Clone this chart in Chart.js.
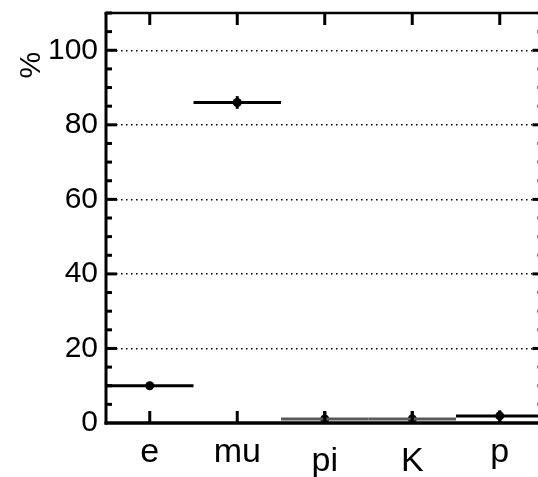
<!DOCTYPE html>
<html><head><meta charset="utf-8">
<script src="https://cdn.jsdelivr.net/npm/chart.js@4.4.0/dist/chart.umd.min.js"></script>
<style>html,body{margin:0;padding:0;background:#fff}#wrap{width:538px;height:477px}</style>
</head><body><div id="wrap"><canvas id="c" width="538" height="477"></canvas></div>
<script>
const categories = ['e', 'mu', 'pi', 'K', 'p'];
const values = [10.0, 86.0, 1.1, 1.1, 1.9];
const errors = [0.4, 1.7, 2.0, 2.0, 1.5];
const yTicks = [0, 20, 40, 60, 80, 100];
const lineColors = ['#000000', '#000000', '#5a5a5a', '#5a5a5a', '#000000'];
const yTitle = '%';

const FAMILY = '"Liberation Sans", Arial, Helvetica, sans-serif';
const X_MIN = -0.5;
const X_MAX = -0.5 + 432 / 87.5;

const datasets = [];
categories.forEach((c, i) => {
  datasets.push({
    type: 'line', data: [{x: i - 0.5, y: values[i]}, {x: i + 0.5, y: values[i]}],
    borderColor: lineColors[i], borderWidth: 3, pointRadius: 0, fill: false
  });
  datasets.push({
    type: 'line', data: [{x: i, y: values[i] - errors[i]}, {x: i, y: values[i] + errors[i]}],
    borderColor: '#000', borderWidth: 3, pointRadius: 0, fill: false
  });
});
datasets.push({
  type: 'scatter', data: categories.map((c, i) => ({x: i, y: values[i]})),
  pointRadius: 4.5, pointBackgroundColor: '#000', pointBorderColor: '#000', borderWidth: 0
});

const framePlugin = {
  id: 'frame',
  afterDraw(chart) {
    const {ctx, chartArea: a, scales: {x, y}} = chart;
    const L = a.left, B = a.bottom, T = a.top, R = x.getPixelForValue(4.5);
    ctx.save();
    ctx.strokeStyle = '#000';
    ctx.lineCap = 'butt';
    const seg = (x1, y1, x2, y2, w) => { ctx.lineWidth = w; ctx.beginPath(); ctx.moveTo(x1, y1); ctx.lineTo(x2, y2); ctx.stroke(); };
    seg(L - 1.5, T, R + 1.5, T, 2.5);
    seg(L, T, L, B + 1.5, 3);
    seg(L - 1.5, B, R + 1.5, B, 3.5);
    seg(R, T, R, B, 3);
    for (let v = 5; v <= 110; v += 5) {
      const py = y.getPixelForValue(v);
      const len = (v % 20 === 0) ? 11 : 6;
      seg(L, py, L + len, py, 3);
      seg(R, py, R - len, py, 3);
    }
    for (let i = 0; i < categories.length; i++) {
      const px = x.getPixelForValue(i);
      seg(px, B, px, B - 12, 3);
      seg(px, T, px, T + 12, 3);
    }
    ctx.translate(32, y.getPixelForValue(96));
    ctx.rotate(-Math.PI / 2);
    ctx.fillStyle = '#000';
    ctx.font = '30px ' + FAMILY;
    ctx.textAlign = 'center';
    ctx.textBaseline = 'middle';
    ctx.fillText(yTitle, 0, 0);
    ctx.restore();
  }
};

new Chart(document.getElementById('c'), {
  data: {datasets},
  options: {
    responsive: false, animation: false,
    layout: {autoPadding: false, padding: {top: 13, right: 0, left: 0, bottom: 0}},
    plugins: {legend: {display: false}, tooltip: {enabled: false}},
    scales: {
      x: {
        type: 'linear', min: X_MIN, max: X_MAX,
        afterBuildTicks: s => { s.ticks = categories.map((c, i) => ({value: i})); },
        afterFit: s => { s.height = 54; s.paddingLeft = 0; s.paddingRight = 0; },
        ticks: {
          autoSkip: false, maxRotation: 0, color: '#000', padding: 9,
          callback: v => categories[v],
          font: ctx => ({family: FAMILY, size: 34, lineHeight: (ctx.index === 2 || ctx.index === 3) ? 1.72 : 1.2})
        },
        grid: {display: false, drawTicks: false},
        border: {display: false}
      },
      y: {
        type: 'linear', min: 0, max: 110,
        afterBuildTicks: s => { s.ticks = yTicks.map(v => ({value: v})); },
        afterFit: s => { s.width = 106; s.paddingTop = 0; s.paddingBottom = 0; },
        ticks: {color: '#000', padding: 8, font: {family: FAMILY, size: 30}},
        grid: {
          drawTicks: false, lineWidth: 1.5,
          color: ctx => (ctx.tick && ctx.tick.value === 0) ? 'rgba(0,0,0,0)' : '#000'
        },
        border: {display: false, dash: [1.5, 3.5]}
      }
    }
  },
  plugins: [framePlugin]
});
</script>
</body></html>
